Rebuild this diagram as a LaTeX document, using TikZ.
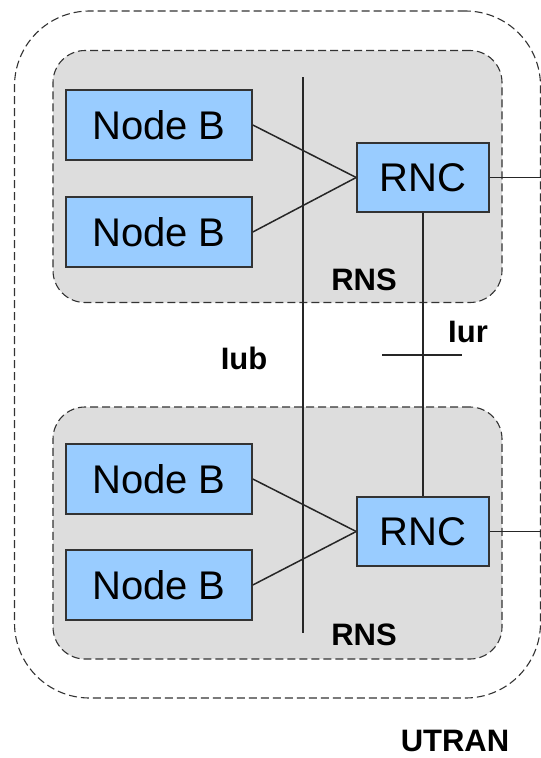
\documentclass[tikz,border=0pt]{standalone}
\usepackage{fontspec}
\setmainfont{Liberation Sans}
\definecolor{nodeblue}{HTML}{99CCFF}
\definecolor{rnsgray}{HTML}{DDDDDD}
\definecolor{edgegray}{HTML}{333333}
\begin{document}
\begin{tikzpicture}[x=1pt,y=-1pt,
  nbox/.style={draw=edgegray,line width=1.6pt,fill=nodeblue,inner sep=0pt,
    minimum width=186pt,minimum height=70pt,font=\fontsize{40}{48}\selectfont},
  rncbox/.style={nbox,minimum width=132pt,minimum height=69pt},
  rnsbox/.style={draw=edgegray,dash pattern=on 8pt off 4pt,line width=1.1pt,
    fill=rnsgray,rounded corners=32pt,inner sep=0pt,minimum width=449pt,minimum height=252pt},
  outerbox/.style={draw=edgegray,dash pattern=on 8pt off 4pt,line width=1.1pt,
    rounded corners=75pt,inner sep=0pt,minimum width=526pt,minimum height=687pt},
  lbl/.style={font=\fontsize{31}{36}\selectfont\bfseries,inner sep=0pt},
  conn/.style={draw=black!85,line width=1.5pt}]
\useasboundingbox (0,0) rectangle (541,758);
\node[outerbox] (utran) at (277.5,354.5) {};
\node[rnsbox] (rns1) at (277.5,176.5) {};
\node[rnsbox] (rns2) at (277.5,533) {};
\node[nbox] (b1) at (159,125) {Node B};
\node[nbox] (b2) at (159,232) {Node B};
\node[nbox] (b3) at (159,479) {Node B};
\node[nbox] (b4) at (159,585) {Node B};
\node[rncbox] (r1) at (423,177.5) {RNC};
\node[rncbox] (r2) at (423,531.5) {RNC};
\node[lbl] (rnsl1) at (364,280) {RNS};
\node[lbl] (rnsl2) at (364,635) {RNS};
\node[lbl] (iub) at (244,358) {Iub};
\node[lbl] (iur) at (468,332) {Iur};
\node[lbl] (utranl) at (455,741) {UTRAN};
\coordinate (iubtop) at (303,77);
\coordinate (iubbot) at (303,633);
\coordinate (tickl) at (382,355);
\coordinate (tickr) at (462,355);
\coordinate (edge) at (541,0);
\draw[conn] (b1.east) -- (r1.west);
\draw[conn] (b2.east) -- (r1.west);
\draw[conn] (b3.east) -- (r2.west);
\draw[conn] (b4.east) -- (r2.west);
\draw[conn] (iubtop) -- (iubbot);
\draw[conn] (r1.south) -- (r2.north);
\draw[conn] (tickl) -- (tickr);
\draw[conn] (r1.east) -- (r1.east -| edge);
\draw[conn] (r2.east) -- (r2.east -| edge);
\end{tikzpicture}
\end{document}
